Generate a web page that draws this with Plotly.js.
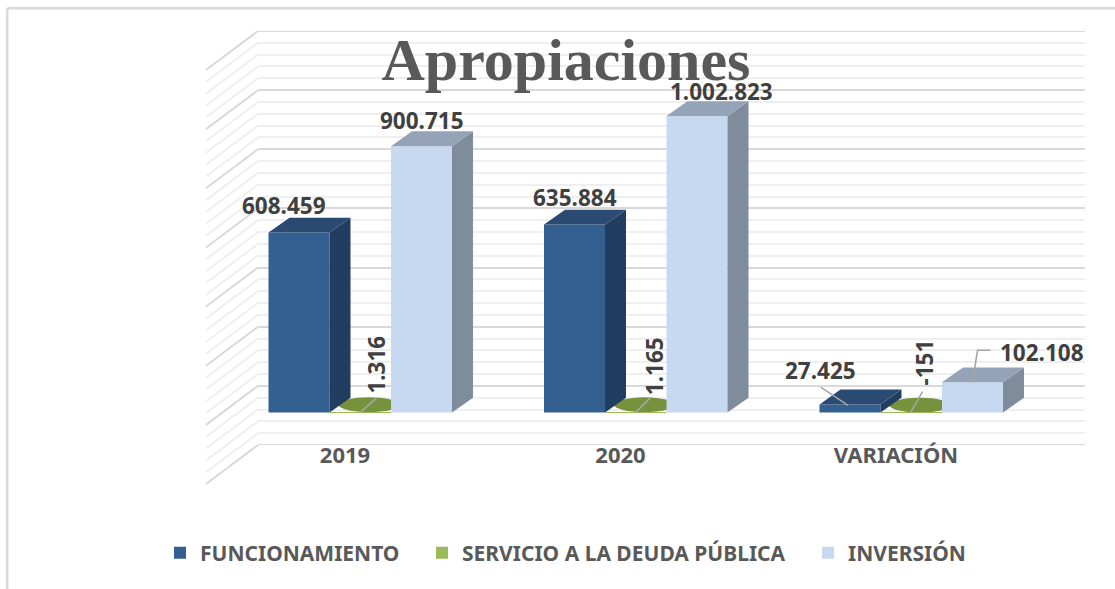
<!DOCTYPE html>
<html>
<head>
<meta charset="utf-8">
<script src="https://cdn.plot.ly/plotly-3.0.1.min.js"></script>
<style>html,body{margin:0;padding:0;background:#fff}#c{width:1115px;height:589px}</style>
</head>
<body>
<div id="c"></div>
<script>
// ---- data ----
var categories = ['2019', '2020', 'VARIACIÓN'];
var funcionamiento = [608459, 635884, 27425];
var servicioDeuda = [1316, 1165, -151];
var inversion = [900715, 1002823, 102108];
var funcionamientoLabels = ['608.459', '635.884', '27.425'];
var servicioDeudaLabels = ['1.316', '1.165', '-151'];
var inversionLabels = ['900.715', '1.002.823', '102.108'];

// ---- plot geometry (pixels) ----
var W = 1115, H = 589;
var plotL = 258, plotR = 1085, plotT = 31, plotB = 445;
var catPx = 275.5, cat0Px = 345;
var wallMin = -200000, wallMax = 1200000;
var vPerPx = (wallMax - wallMin) / (plotB - plotT);
var frontZeroPx = 412.5;
var barW = 61 / catPx;
var depthX = 21 / catPx, depthY = 14.8 * vPerPx;
var offF = -46 / catPx, offG = 15.5 / catPx, offI = 76.5 / catPx;
var frontMin = -(plotB - frontZeroPx) * vPerPx;
var frontMax = frontMin + (wallMax - wallMin);
var wallShift = wallMin - frontMin;
var xMin = (plotL - cat0Px) / catPx, xMax = (plotR - cat0Px) / catPx;
var idx = categories.map(function (_, i) { return i; });
function paperX(px) { return (px - plotL) / (plotR - plotL); }
function paperY(px) { return (plotB - px) / (plotB - plotT); }

var colF = {front: '#335F91', side: '#213D5F', top: '#2B4A72'};
var colG = {legend: '#9BBB59', top: '#76923C'};
var colI = {front: '#C6D9F1', side: '#7F8C9B', top: '#95A3B8'};

function bar(name, vals, off, color, legend) {
  return {type: 'bar', name: name, x: idx, y: vals, yaxis: 'y2', width: barW,
    offset: off - barW / 2, marker: {color: color, line: {width: 0}},
    hoverinfo: 'skip', legend: legend, showlegend: true};
}
function poly(xs, ys, color) {
  return {type: 'scatter', mode: 'lines', x: xs, y: ys, yaxis: 'y2', fill: 'toself',
    fillcolor: color, line: {width: 0, color: color}, hoverinfo: 'skip', showlegend: false};
}
function box3d(vals, off, col) {
  var out = [];
  vals.forEach(function (v, i) {
    var l = i + off - barW / 2, r = i + off + barW / 2;
    out.push(poly([r, r + depthX, r + depthX, r, r], [0, depthY, v + depthY, v, 0], col.side));
    out.push(poly([l, r, r + depthX, l + depthX, l], [v, v, v + depthY, v + depthY, v], col.top));
  });
  return out;
}

var traces = [
  // edges of the back wall (top and floor lines)
  {type: 'scatter', mode: 'lines', x: [xMin, xMax, null, xMin, xMax], y: [wallMin, wallMin, null, wallMax, wallMax],
    connectgaps: false, cliponaxis: false, line: {color: '#D9D9D9', width: 2}, hoverinfo: 'skip', showlegend: false},
  bar('FUNCIONAMIENTO', funcionamiento, offF, colF.front, 'legend'),
  bar('SERVICIO A LA DEUDA PÚBLICA', servicioDeuda, offG, colG.legend, 'legend2'),
  bar('INVERSIÓN', inversion, offI, colI.front, 'legend3')
].concat(box3d(funcionamiento, offF, colF), box3d(inversion, offI, colI));

// Flat cylinder tops of the near-zero series (main-axis shapes sit under the bars)
var shapes = servicioDeuda.map(function (v, i) {
  var c = i + offG + 8.5 / catPx;
  return {type: 'circle', xref: 'x', yref: 'y', layer: 'between',
    x0: c - barW / 2, x1: c + barW / 2, y0: v + wallShift, y1: v + depthY + wallShift,
    fillcolor: colG.top, line: {width: 0}};
});

// Side wall: a diagonal for every wall gridline, in paper space so it may leave the plot area
var sideDx = -52, sideDy = 39;
for (var v = wallMin, n = 0; v <= wallMax + 1; v += 40000, n++) {
  var pxY = plotB - (v - wallMin) / vPerPx;
  shapes.push({type: 'line', xref: 'paper', yref: 'paper', layer: 'below',
    x0: 0, y0: paperY(pxY), x1: paperX(plotL + sideDx), y1: paperY(pxY + sideDy),
    line: {color: n % 5 === 0 ? '#D9D9D9' : '#EFEFEF', width: 2}});
}

// Chart frame
var frameL = paperX(7.2), frameR = paperX(W), frameT = paperY(8.2), frameB = paperY(H);
shapes.push({type: 'line', xref: 'paper', yref: 'paper', x0: frameL, x1: frameR, y0: frameT, y1: frameT,
  line: {color: '#D9D9D9', width: 2.5}});
shapes.push({type: 'line', xref: 'paper', yref: 'paper', x0: frameL, x1: frameL, y0: frameT, y1: frameB,
  line: {color: '#D9D9D9', width: 2.5}});

// Label placement relative to each bar's top-centre (pixels)
var labelFont = {family: '"Noto Sans", sans-serif', size: 22.5, color: '#404040', weight: 700};
function lab(text, g, off, v, dx, dy, rot) {
  return {text: '<b>' + text + '</b>', x: g + off, y: v, xref: 'x', yref: 'y2', showarrow: false,
    xshift: dx, yshift: -dy, xanchor: 'center', yanchor: 'middle', textangle: rot || 0, font: labelFont};
}
var annotations = [
  lab(funcionamientoLabels[0], 0, offF, funcionamiento[0], -15, -27),
  lab(funcionamientoLabels[1], 1, offF, funcionamiento[1], 0, -27),
  lab(funcionamientoLabels[2], 2, offF, funcionamiento[2], -30, -33.5),
  lab(inversionLabels[0], 0, offI, inversion[0], 0, -26),
  lab(inversionLabels[1], 1, offI, inversion[1], 24, -24),
  lab(inversionLabels[2], 2, offI, inversion[2], 69, -30),
  lab(servicioDeudaLabels[0], 0, offG, servicioDeuda[0], 16, -47, -90),
  lab(servicioDeudaLabels[1], 1, offG, servicioDeuda[1], 18, -46, -90),
  lab(servicioDeudaLabels[2], 2, offG, servicioDeuda[2], 13.5, -50, -90)
];

// Leader lines, same relative placement
function leader(g, off, val, pts) {
  return {type: 'scatter', mode: 'lines', yaxis: 'y2', hoverinfo: 'skip', showlegend: false,
    x: pts.map(function (p) { return g + off + p[0] / catPx; }),
    y: pts.map(function (p) { return val - p[1] * vPerPx; }),
    line: {color: '#A6A6A6', width: 1.6}};
}
traces.push(
  leader(0, offG, servicioDeuda[0], [[0, 0], [16, -14]]),
  leader(1, offG, servicioDeuda[1], [[0, 0], [14, -14]]),
  leader(2, offG, servicioDeuda[2], [[-1, 0], [11, -21]]),
  leader(2, offF, funcionamiento[2], [[-2, 1], [-29, -17]]),
  leader(2, offI, inversion[2], [[0, 0], [5, -32], [18, -32]])
);

function legendAt(pxX) {
  return {orientation: 'h', x: paperX(pxX), xanchor: 'left',
    y: paperY(553), yanchor: 'middle',
    bgcolor: 'rgba(0,0,0,0)', borderwidth: 0,
    font: {family: '"Noto Sans", sans-serif', size: 21, color: '#595959', weight: 700}};
}

var layout = {
  width: W, height: H, showlegend: true,
  paper_bgcolor: '#FFFFFF', plot_bgcolor: 'rgba(0,0,0,0)',
  margin: {l: plotL, r: W - plotR, t: plotT, b: H - plotB, pad: 0},
  title: {text: '<b>Apropiaciones</b>', x: 566 / W, xanchor: 'center', y: 1 - 59 / H, yanchor: 'middle',
    font: {family: '"Liberation Serif", serif', size: 60, color: '#595959'}},
  xaxis: {range: [xMin, xMax], tickmode: 'array', tickvals: idx, ticktext: categories,
    showgrid: false, zeroline: false, showline: false, ticks: '', ticklen: 0, ticklabelstandoff: -5,
    tickfont: {family: '"Noto Sans", sans-serif', size: 22, color: '#595959', weight: 700}},
  yaxis: {range: [wallMin, wallMax], showticklabels: false, ticks: '', zeroline: false, showline: false,
    dtick: 200000, tick0: wallMin, showgrid: true, gridcolor: '#D9D9D9', gridwidth: 2,
    minor: {dtick: 40000, tick0: wallMin, showgrid: true, gridcolor: '#EFEFEF', gridwidth: 2}},
  yaxis2: {range: [frontMin, frontMax], overlaying: 'y', side: 'left', showticklabels: false,
    showgrid: false, zeroline: false, showline: false, ticks: ''},
  barmode: 'overlay',
  legend: legendAt(160),
  legend2: legendAt(422),
  legend3: legendAt(808),
  shapes: shapes,
  annotations: annotations
};
Plotly.newPlot('c', traces, layout, {displayModeBar: false, responsive: false});
</script>
</body>
</html>
